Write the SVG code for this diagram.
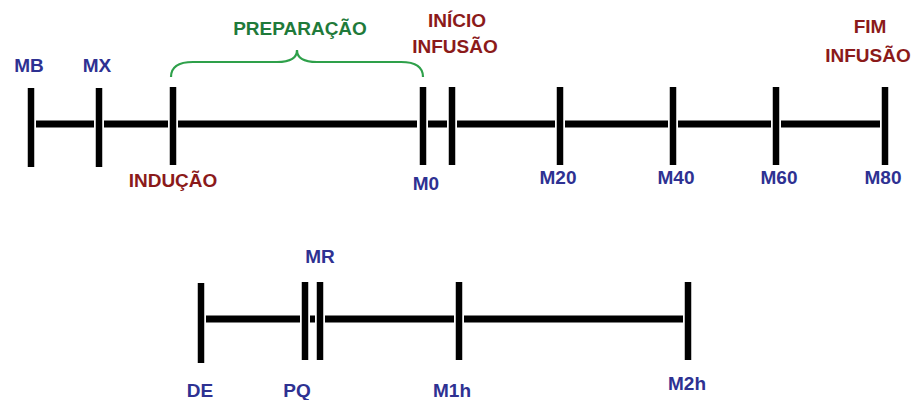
<svg xmlns="http://www.w3.org/2000/svg" width="918" height="400" viewBox="0 0 918 400">
<style>
.ln{stroke:#000;stroke-width:7;fill:none}
.tk{stroke:#000;stroke-width:6.5;fill:none}
.br{stroke:#2EA04A;stroke-width:2.2;fill:none}
text{font-family:"Liberation Sans",Arial,sans-serif;font-weight:bold;font-size:19px;text-anchor:middle}
.b{fill:#2E3192}
.r{fill:#8B1A1A}
.g{fill:#1F7A3A}
</style>
<rect width="918" height="400" fill="#fff"/>
<g id="connectors">
<path class="ln" d="M36,124H94M104,124H168M178,124H417M428,124H447M457,124H555M565,124H668M678,124H771M781,124H880"/>
<path class="ln" d="M206,319H300M310,319H315M325,319H454M464,319H683"/>
<path class="br" d="M171,77Q171,62 193,62L277,62Q297,62 297,50Q297,62 317,62L401,62Q423,62 423,77"/>
</g>
<g id="MB"><line class="tk" x1="31" y1="88" x2="31" y2="167"/><text class="b" x="29" y="72">MB</text></g>
<g id="MX"><line class="tk" x1="99" y1="88" x2="99" y2="167"/><text class="b" x="97" y="72">MX</text></g>
<g id="INDUCAO"><line class="tk" x1="173" y1="87" x2="173" y2="165"/><text class="r" x="173" y="187">INDUÇÃO</text></g>
<g id="PREPARACAO"><text class="g" x="300" y="35">PREPARAÇÃO</text></g>
<g id="M0"><line class="tk" x1="423" y1="87" x2="423" y2="165"/><text class="b" x="426" y="190">M0</text></g>
<g id="INICIO"><line class="tk" x1="452" y1="87" x2="452" y2="165"/><text class="r" x="457" y="27">INÍCIO</text><text class="r" x="455" y="53">INFUSÃO</text></g>
<g id="M20"><line class="tk" x1="560" y1="87" x2="560" y2="165"/><text class="b" x="558" y="184">M20</text></g>
<g id="M40"><line class="tk" x1="673" y1="87" x2="673" y2="165"/><text class="b" x="676" y="184">M40</text></g>
<g id="M60"><line class="tk" x1="776" y1="87" x2="776" y2="165"/><text class="b" x="779" y="184">M60</text></g>
<g id="M80"><line class="tk" x1="885" y1="87" x2="885" y2="165"/><text class="b" x="883" y="184">M80</text><text class="r" x="870" y="33">FIM</text><text class="r" x="868" y="62">INFUSÃO</text></g>
<g id="DE"><line class="tk" x1="201" y1="283" x2="201" y2="363"/><text class="b" x="200" y="397">DE</text></g>
<g id="PQ"><line class="tk" x1="305" y1="282" x2="305" y2="360"/><text class="b" x="297" y="397">PQ</text></g>
<g id="MR"><line class="tk" x1="320" y1="282" x2="320" y2="360"/><text class="b" x="320" y="263">MR</text></g>
<g id="M1h"><line class="tk" x1="459" y1="282" x2="459" y2="360"/><text class="b" x="452" y="397">M1h</text></g>
<g id="M2h"><line class="tk" x1="688" y1="282" x2="688" y2="360"/><text class="b" x="687" y="390">M2h</text></g>
</svg>
